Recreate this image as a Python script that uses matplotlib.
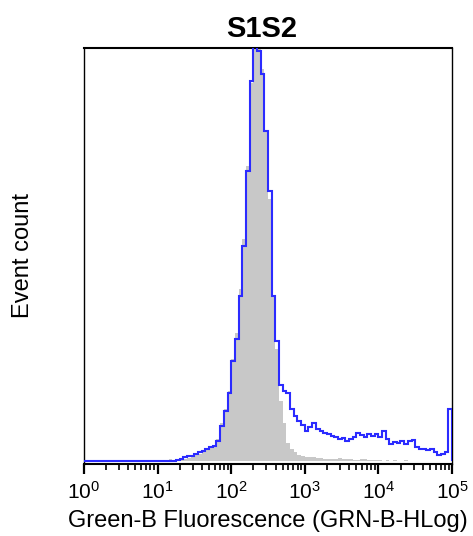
import numpy as np
import matplotlib
matplotlib.use("Agg")
import matplotlib.pyplot as plt

# log10 bin edges, 0.05 decade wide, 10^0 .. 10^5
log_edges = np.linspace(0, 5, 101)

# stained sample (blue outline), counts per bin
sample_counts = [0] * 25 + [
    1, 2, 4, 5, 5, 7, 9, 10, 12, 14,
    15, 20, 35, 50, 68, 100, 122, 165, 215, 290,
    380, 430, 410, 387, 330, 270, 165, 120, 76, 70,
    68, 52, 45, 40, 36, 30, 34, 38, 32, 30,
    28, 27, 25, 24, 22, 23, 20, 22, 24, 28,
    26, 24, 27, 25, 27, 24, 30, 22, 17, 19,
    18, 20, 17, 20, 21, 14, 12, 12, 11, 12,
    9, 6, 7, 9, 52,
]

# control (grey filled)
control_counts = [0] * 23 + [
    2, 0, 1, 1, 2, 3, 4, 6, 7, 9,
    11, 13, 16, 22, 38, 52, 70, 102, 128, 172,
    222, 295, 378, 430, 430, 392, 330, 262, 165, 112,
    60, 38, 18, 12, 9, 6, 5, 4, 4, 4,
    3, 3, 2, 2, 2, 2, 3, 2, 2, 2,
    1, 1, 2, 2, 1, 1, 1, 1, 0, 1,
    0, 1, 0, 0, 1, 0, 0, 0, 0, 0,
    0, 0, 0, 0, 0, 0, 0,
]

title = "S1S2"
x_label = "Green-B Fluorescence (GRN-B-HLog)"
y_label = "Event count"

plt.rcParams["font.family"] = ["Liberation Sans", "DejaVu Sans"]
plt.rcParams["mathtext.fontset"] = "custom"
plt.rcParams["mathtext.rm"] = "Liberation Sans"
plt.rcParams["mathtext.default"] = "regular"

edges = 10 ** log_edges

fig = plt.figure(figsize=(4.73, 5.36), dpi=100)
ax = fig.add_axes([84 / 473, 1 - 464 / 536, 368 / 473, 416 / 536])

ax.stairs(control_counts, edges, fill=True, color="#c8c8c8", linewidth=0, zorder=1)
ax.stairs(sample_counts, edges, color="#2b2bff", linewidth=1.5, zorder=3)

ax.set_xscale("log")
ax.set_xlim(1, 1e5)
ax.set_ylim(-3, 413)
ax.set_yticks([])
ax.set_xticks([10 ** i for i in range(6)])
ax.set_xticklabels([f"$10^{{{i}}}$" for i in range(6)], fontsize=15)
ax.xaxis.set_minor_locator(matplotlib.ticker.LogLocator(base=10, subs=np.arange(2, 10)))
ax.xaxis.set_minor_formatter(matplotlib.ticker.NullFormatter())
ax.tick_params(axis="x", which="major", direction="out", length=7.5, width=1.6, pad=5)
ax.tick_params(axis="x", which="minor", direction="out", length=4.5, width=1.2)

for side in ax.spines.values():
    side.set_linewidth(1.0)
ax.spines["top"].set_linewidth(1.5)
ax.spines["bottom"].set_linewidth(1.5)

ax.set_xlabel(x_label, fontsize=17, labelpad=5)
ax.set_ylabel(y_label, fontsize=17, labelpad=36)
ax.set_title(title, fontsize=21, fontweight="bold", pad=8, x=0.484)

fig.savefig("out.png", dpi=100)
